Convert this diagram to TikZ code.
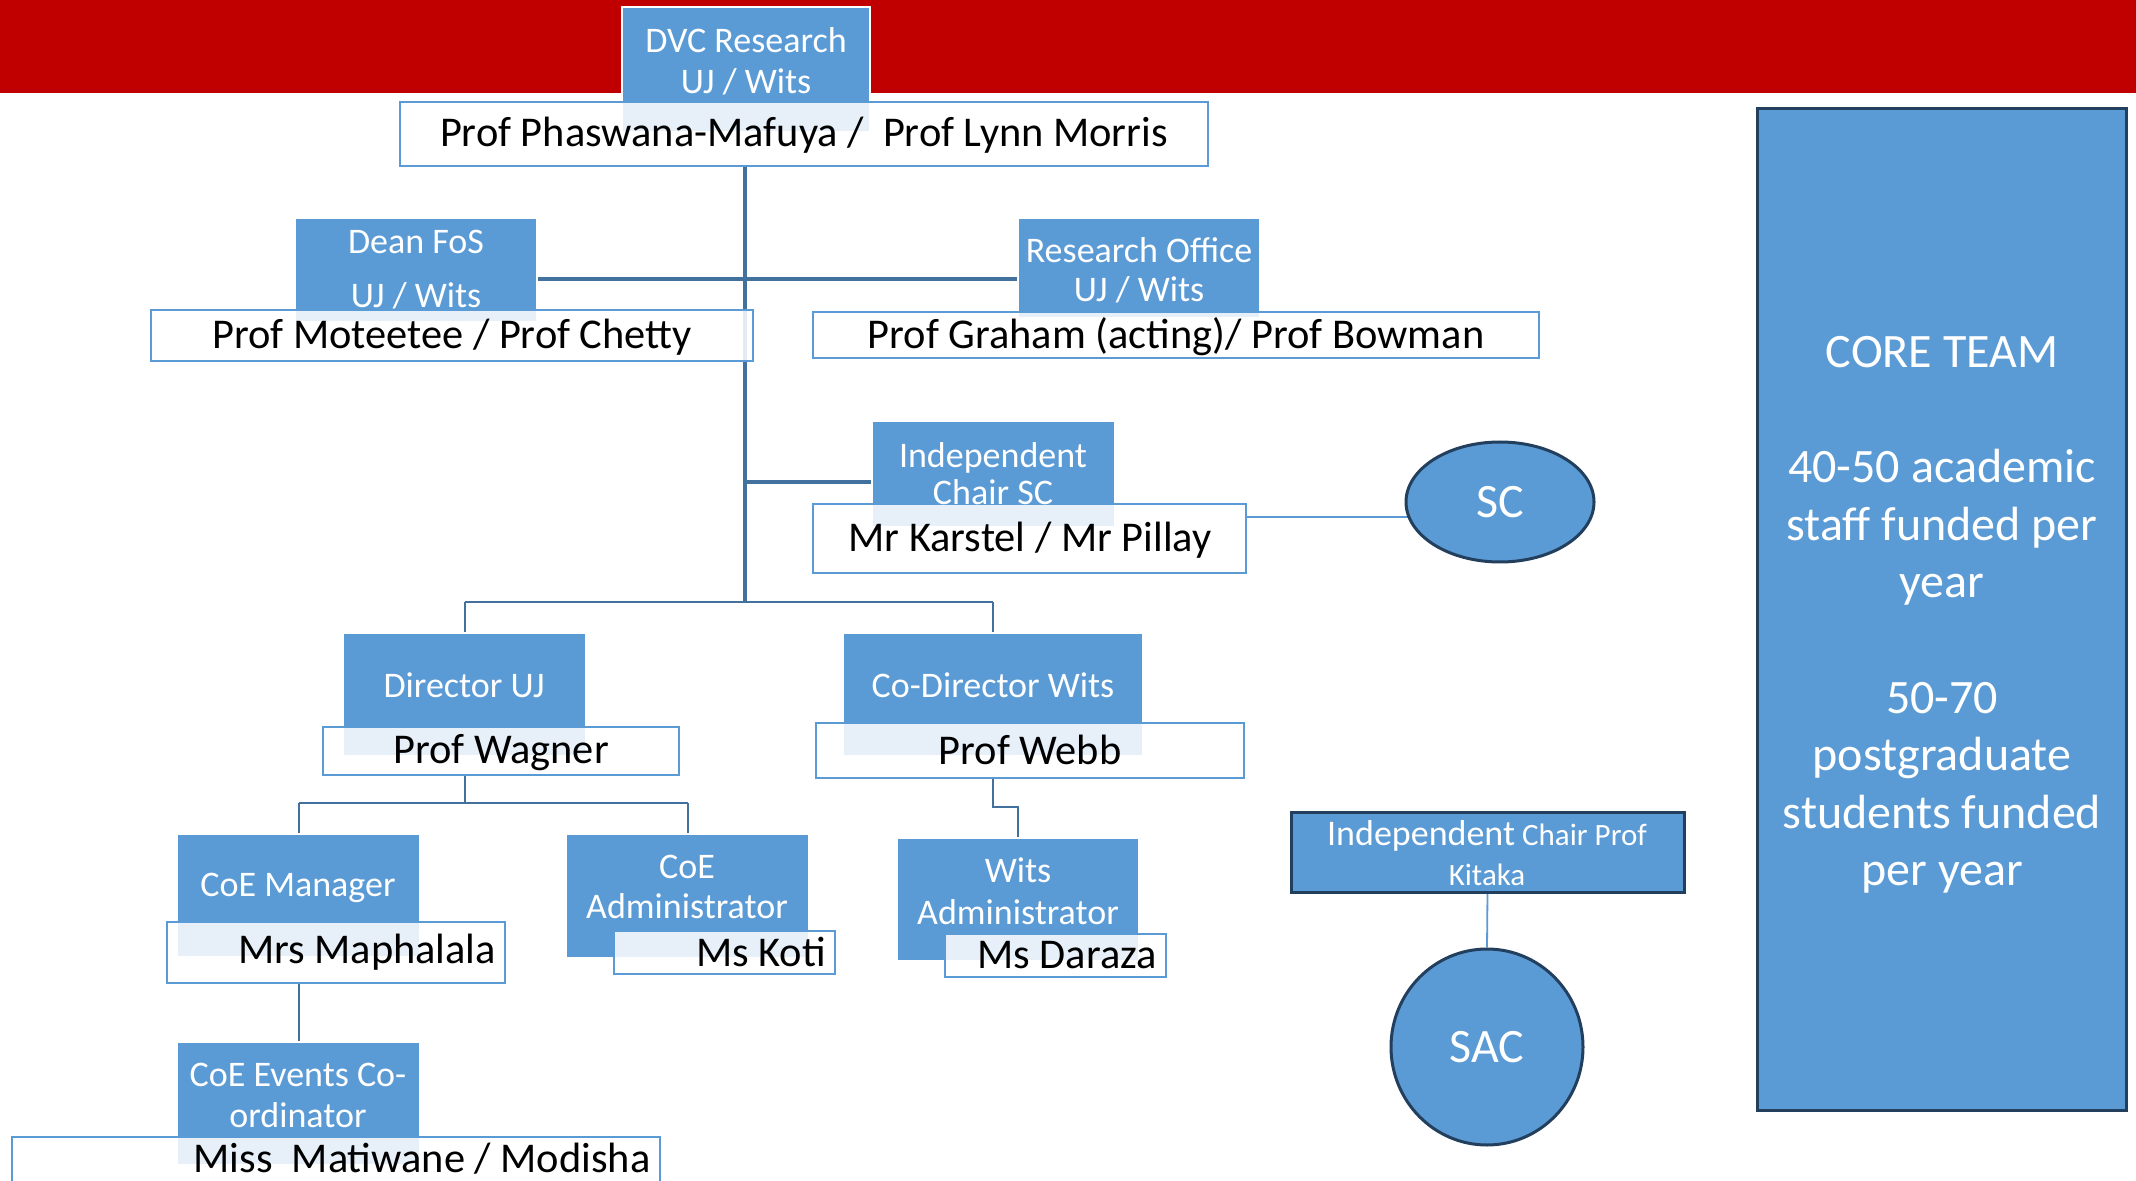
\documentclass[tikz,border=0pt]{standalone}
\usepackage{fontspec}
\setmainfont{Carlito}
\usetikzlibrary{fit,shapes.geometric,calc}
\definecolor{accent}{HTML}{5B9BD5}
\definecolor{conn}{HTML}{41719C}
\definecolor{dark}{HTML}{223F5E}
\definecolor{band}{HTML}{C00000}
\pgfdeclarelayer{background}
\pgfsetlayers{background,main}
\begin{document}
\begin{tikzpicture}[x=0.5pt,y=-0.5pt,
  bluebox/.style={fill=accent, draw=white, line width=1.2pt, inner sep=0pt, outer sep=0pt},
  namebox/.style={fill=white, fill opacity=0.86, draw=accent, draw opacity=1, line width=1.4pt, inner sep=0pt, outer sep=0pt},
  darkbox/.style={fill=accent, draw=dark, line width=1.5pt, inner sep=0pt, outer sep=0pt},
  btext/.style={text=white, inner sep=0pt, align=center, font=\fontsize{18}{20.5}\selectfont},
  ntext/.style={text=black, inner sep=0pt, font=\fontsize{21.2}{24}\selectfont},
  trunk/.style={draw=conn, line width=2pt},
  bar/.style={draw=conn, line width=1.4pt},
  thin/.style={draw=conn, line width=1pt},
  light/.style={draw=accent, line width=0.9pt},
]
\useasboundingbox (0,0) rectangle (2136,1181);
\clip (0,0) rectangle (2136,1181);
\fill[band] (0,0) rectangle (2136,93);

% DVC
\node[bluebox, fit={(622,7) (870,132)}] (dvcB) {};
\node[namebox, fit={(400,102) (1208,166)}] (phasW) {};
\node[btext] (dvcT) at (746,61.5) {DVC Research\\UJ / Wits};
\node[ntext] (phasT) at (804,135.5) {Prof Phaswana-Mafuya /\ \ Prof Lynn Morris};

% Dean
\node[bluebox, fit={(295,218) (537,322)}] (deanB) {};
\node[namebox, fit={(151,310) (753,361)}] (motW) {};
\node[btext, font=\fontsize{18}{27}\selectfont] (deanT) at (416,270) {Dean FoS\\UJ / Wits};
\node[ntext] (motT) at (452,337) {Prof Moteetee / Prof Chetty};

% Research office
\node[bluebox, fit={(1018,218) (1260,318)}] (roB) {};
\node[namebox, fit={(813,312) (1539,358)}] (graW) {};
\node[btext, font=\fontsize{18}{19.5}\selectfont] (roT) at (1139,270.5) {Research Office\\UJ / Wits};
\node[ntext] (graT) at (1176,337) {Prof Graham (acting)/ Prof Bowman};

% Independent Chair SC
\node[bluebox, fit={(872,421) (1115,527)}] (icB) {};
\node[namebox, fit={(813,504) (1246,573)}] (karW) {};
\node[btext, font=\fontsize{18}{18.5}\selectfont] (icT) at (993,473.5) {Independent\\Chair SC};
\node[ntext] (karT) at (1030,540) {Mr Karstel / Mr Pillay};

% SC
\node[ellipse, fill=accent, draw=dark, line width=1.5pt, minimum width=94pt, minimum height=60pt, inner sep=0pt, text=white, font=\fontsize{24}{28}\selectfont] (sc) at (1500,502) {SC};

% Director UJ
\node[bluebox, fit={(343,633) (586,756)}] (dirB) {};
\node[namebox, fit={(323,727) (679,775)}] (wagW) {};
\node[btext] (dirT) at (464,685) {Director UJ};
\node[ntext] (wagT) at (501,752.5) {Prof Wagner};

% Co-Director Wits
\node[bluebox, fit={(843,633) (1143,756)}] (codB) {};
\node[namebox, fit={(816,723) (1244,778)}] (webW) {};
\node[btext] (codT) at (993,685) {Co-Director Wits};
\node[ntext] (webT) at (1030,750) {Prof Webb};

% CoE Manager
\node[bluebox, fit={(177,834) (420,957)}] (cmB) {};
\node[namebox, fit={(167,922) (505,983)}] (mapW) {};
\node[btext] (cmT) at (298,888) {CoE Manager};
\node[ntext] (mapT) at (367,952) {Mrs Maphalala};

% CoE Administrator
\node[bluebox, fit={(566,834) (809,958)}] (caB) {};
\node[namebox, fit={(614,931) (835,974)}] (kotW) {};
\node[btext, font=\fontsize{18}{20}\selectfont] (caT) at (687,887) {CoE\\Administrator};
\node[ntext] (kotT) at (761,952) {Ms Koti};

% Wits Administrator
\node[bluebox, fit={(897,838) (1139,961)}] (waB) {};
\node[namebox, fit={(945,934) (1166,977)}] (darW) {};
\node[btext, font=\fontsize{18}{21}\selectfont] (waT) at (1018,891) {Wits\\Administrator};
\node[ntext] (darT) at (1067,955) {Ms Daraza};

% CoE Events
\node[bluebox, fit={(177,1042) (420,1165)}] (ceB) {};
\node[namebox, fit={(12,1137) (660,1200)}] (matW) {};
\node[btext] (ceT) at (298,1095.5) {CoE Events Co-\\ordinator};
\node[ntext] (matT) at (422,1159) {Miss\ \ Matiwane / Modisha};

% Kitaka / SAC
\node[darkbox, fit={(1291,812) (1684,892)}] (kitB) {};
\node[btext, font=\fontsize{15.5}{20}\selectfont] (kitT) at (1487,853) {{\fontsize{18}{20}\selectfont Independent} Chair Prof\\Kitaka};
\node[ellipse, fill=accent, draw=dark, line width=1.5pt, minimum width=96pt, minimum height=98pt, inner sep=0pt, text=white, font=\fontsize{24}{28}\selectfont] (sac) at (1487,1047) {SAC};

% Core team
\node[darkbox, fit={(1757,109) (2126,1110)}] (coreB) {};
\node[btext, font=\fontsize{24}{28.8}\selectfont] (coreT) at (1942,615) {CORE TEAM\\[28.8pt]40-50 academic\\staff funded per\\year\\[28.8pt]50-70\\postgraduate\\students funded\\per year};

% connectors
\coordinate (jDean) at (745,279);
\coordinate (jSC) at (745,482);
\coordinate (jDir) at (745,602);
\coordinate (jWag) at (462,803);
\coordinate (jWebb) at (1005,807);
\coordinate (jKar) at (1300,517);
\begin{pgfonlayer}{background}
\draw[trunk] (phasW.south -| jDir) -- (jDir);
\draw[trunk] (deanB.east |- jDean) -- (roB.west |- jDean);
\draw[trunk] (jSC) -- (icB.west |- jSC);
\draw[bar] (dirB.north |- jDir) -- (codB.north |- jDir);
\draw[thin] (dirB.north |- jDir) -- (dirB.north);
\draw[thin] (codB.north |- jDir) -- (codB.north);
\draw[thin] (dirB.center |- wagW.south) -- (dirB.center |- jWag);
\draw[thin] (cmB.north |- jWag) -- (caB.north |- jWag);
\draw[thin] (cmB.north |- jWag) -- (cmB.north);
\draw[thin] (caB.north |- jWag) -- (caB.north);
\draw[thin] (codB.center |- webW.south) -- (codB.center |- jWebb) -| (waB.north);
\draw[thin] (cmB.center |- mapW.south) -- (ceB.north);
\draw[light] (karW.east |- jKar) -- (sc.center |- jKar);
\draw[light] (kitB.south) -- (sac.north);
\end{pgfonlayer}
\end{tikzpicture}
\end{document}
